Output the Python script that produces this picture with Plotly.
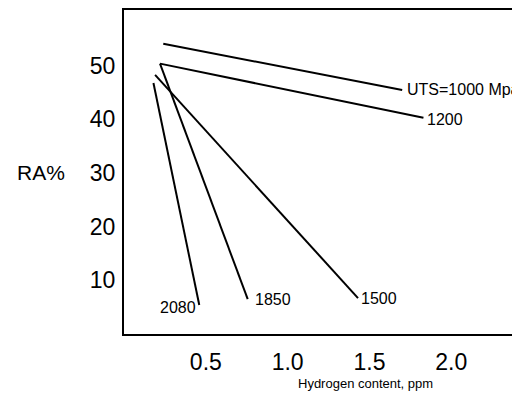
import plotly.graph_objects as go

# UTS grades (MPa) and line endpoints (hydrogen ppm, RA %)
uts = ["1000", "1200", "1500", "1850", "2080"]
labels = ["UTS=1000 Mpa", "1200", "1500", "1850", "2080"]
h_start = [0.24, 0.22, 0.19, 0.22, 0.18]
ra_start = [54.1, 50.4, 48.3, 50.4, 46.8]
h_end = [1.70, 1.83, 1.43, 0.756, 0.46]
ra_end = [45.5, 40.3, 6.7, 6.5, 5.4]

x_ticks = [0.5, 1.0, 1.5, 2.0]
x_tick_text = ["0.5", "1.0", "1.5", "2.0"]
y_ticks = [10, 20, 30, 40, 50]

FONT = "Liberation Sans"

fig = go.Figure()
for i, u in enumerate(uts):
    fig.add_trace(go.Scatter(
        x=[h_start[i], h_end[i]], y=[ra_start[i], ra_end[i]],
        mode="lines", line=dict(color="black", width=2),
        name=u, showlegend=False, hoverinfo="skip"))

label_anchor = ["left", "left", "left", "left", "right"]
label_dx = [3, 2, 1, 5, -1]
label_dy = [0, -2, 0, 0, -2]
for i, t in enumerate(labels):
    fig.add_annotation(x=h_end[i], y=ra_end[i], text=t, showarrow=False,
                       xanchor=label_anchor[i], yanchor="middle",
                       xshift=label_dx[i], yshift=label_dy[i],
                       font=dict(family=FONT, size=16, color="black"))

fig.add_annotation(xref="paper", yref="paper", x=-0.21, y=0.5, text="RA%",
                   showarrow=False, xanchor="center", yanchor="middle",
                   font=dict(family=FONT, size=21, color="black"))
fig.add_annotation(xref="paper", yref="paper", x=0.611, y=-0.152,
                   text="Hydrogen content, ppm", showarrow=False,
                   xanchor="center", yanchor="middle",
                   font=dict(family=FONT, size=13, color="black"))

fig.update_xaxes(range=[0, 2.42], tickvals=x_ticks, ticktext=x_tick_text,
                 showgrid=False, zeroline=False, showline=True, mirror=True,
                 linecolor="black", linewidth=2, ticks="", ticklabelstandoff=6,
                 tickfont=dict(family=FONT, size=23, color="black"))
fig.update_yaxes(range=[0, 60.4], tickvals=y_ticks,
                 showgrid=False, zeroline=False, showline=True,
                 linecolor="black", linewidth=2, ticks="", ticklabelstandoff=2,
                 tickfont=dict(family=FONT, size=23, color="black"))

# page body has an 8px margin, so the figure is shifted; compensate
fig.update_layout(width=512, height=385,
                  margin=dict(l=116, r=0, t=2, b=59),
                  paper_bgcolor="white", plot_bgcolor="white")

fig.write_html("out.html")
